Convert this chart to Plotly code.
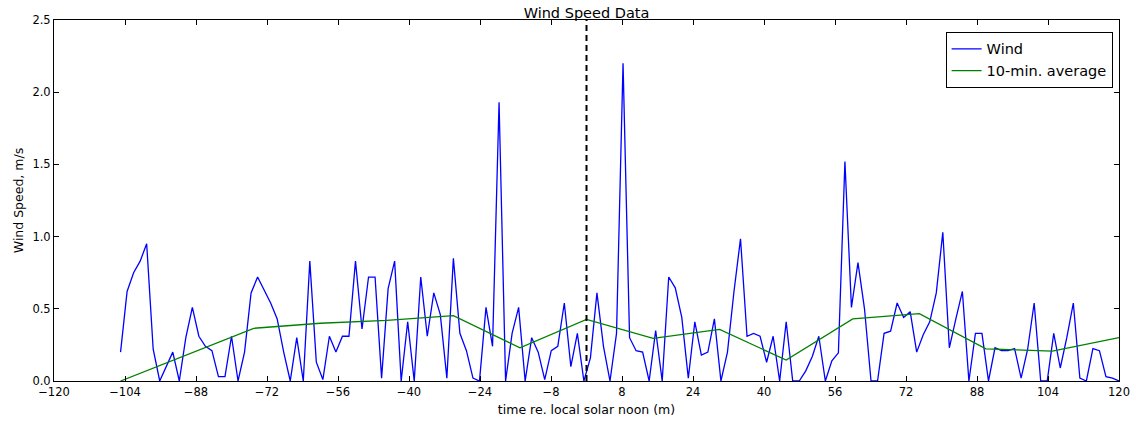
import numpy as np
import plotly.graph_objects as go

# Wind speed samples (m/s), evenly spaced from -105 to 120 minutes re. solar noon
wind_speed = [
    0.20, 0.62, 0.75, 0.83, 0.95, 0.22, 0.00, 0.10, 0.20, 0.00,
    0.30, 0.51, 0.31, 0.24, 0.21, 0.03, 0.03, 0.31, 0.00, 0.20,
    0.61, 0.72, 0.63, 0.54, 0.43, 0.20, 0.00, 0.30, 0.00, 0.83,
    0.13, 0.01, 0.31, 0.20, 0.31, 0.31, 0.83, 0.36, 0.72, 0.72,
    0.02, 0.64, 0.83, 0.00, 0.41, 0.00, 0.72, 0.31, 0.61, 0.46,
    0.02, 0.85, 0.33, 0.21, 0.02, 0.00, 0.51, 0.24, 1.93, 0.00,
    0.33, 0.51, 0.00, 0.30, 0.20, 0.01, 0.21, 0.24, 0.54, 0.10,
    0.33, 0.00, 0.16, 0.61, 0.24, 0.00, 0.33, 2.20, 0.30, 0.21,
    0.20, 0.00, 0.35, 0.00, 0.72, 0.645, 0.44, 0.02, 0.41, 0.18,
    0.20, 0.43, 0.00, 0.20, 0.62, 0.985, 0.31, 0.33, 0.31, 0.13,
    0.31, 0.00, 0.41, 0.00, 0.00, 0.07, 0.17, 0.31, 0.00, 0.14,
    0.195, 1.52, 0.51, 0.82, 0.50, 0.00, 0.00, 0.33, 0.345, 0.54,
    0.44, 0.48, 0.20, 0.32, 0.41, 0.61, 1.03, 0.23, 0.43, 0.62,
    0.00, 0.33, 0.33, 0.00, 0.23, 0.21, 0.21, 0.225, 0.02, 0.22,
    0.54, 0.00, 0.00, 0.33, 0.09, 0.30, 0.54, 0.02, 0.00, 0.225,
    0.21, 0.03, 0.02, 0.00,
]
wind_start, wind_end = -105, 120
wind_time = np.linspace(wind_start, wind_end, len(wind_speed))

# 10-minute average curve
avg_time = [-105, -90, -75, -60, -45, -30, -15, 0, 15, 30, 45, 60, 75, 90, 105, 120]
avg_speed = [0.0, 0.18, 0.365, 0.40, 0.42, 0.453, 0.23, 0.426, 0.295, 0.357,
             0.145, 0.43, 0.467, 0.223, 0.207, 0.30]

solar_noon = 0
x_ticks = list(range(-120, 121, 16))
y_ticks = [0.0, 0.5, 1.0, 1.5, 2.0, 2.5]

font = "DejaVu Sans, Verdana, sans-serif"

fig = go.Figure()
fig.add_trace(go.Scatter(x=wind_time, y=wind_speed, mode="lines", name="Wind",
                         line=dict(color="#0000ff", width=1.3)))
fig.add_trace(go.Scatter(x=avg_time, y=avg_speed, mode="lines", name="10-min. average",
                         line=dict(color="#008000", width=1.3)))
fig.add_trace(go.Scatter(x=[solar_noon, solar_noon], y=[0, 2.5], mode="lines",
                         showlegend=False, hoverinfo="skip",
                         line=dict(color="black", width=2, dash="6px,4px")))

axis_common = dict(showline=True, linecolor="black", linewidth=1, mirror="ticks",
                   ticks="inside", ticklen=5, tickcolor="black", showgrid=False,
                   zeroline=False, automargin=False,
                   tickfont=dict(family=font, size=11.5, color="black"))

fig.update_xaxes(range=[-120, 120], tickmode="array", tickvals=x_ticks,
                 ticktext=[str(v).replace("-", "\u2212") for v in x_ticks],
                 title=dict(text="time re. local solar noon (m)",
                            font=dict(family=font, size=12.5, color="black"), standoff=7),
                 **axis_common)
fig.update_yaxes(range=[0, 2.5], tickmode="array", tickvals=y_ticks,
                 ticktext=[f"{v:.1f}" for v in y_ticks],
                 title=dict(text="Wind Speed, m/s",
                            font=dict(family=font, size=12.5, color="black"), standoff=6),
                 **axis_common)

fig.update_layout(
    width=1136, height=424,
    margin=dict(l=54, r=17, t=20, b=43, autoexpand=False),
    paper_bgcolor="white", plot_bgcolor="white",
    title=dict(text="Wind Speed Data", x=0.5, xanchor="center", y=0.97, yanchor="middle",
               xref="paper", font=dict(family=font, size=14.5, color="black")),
    legend=dict(x=0.994, y=0.967, xanchor="right", yanchor="top",
                bgcolor="white", bordercolor="black", borderwidth=1,
                font=dict(family=font, size=14.5, color="black")),
    showlegend=True,
)

fig.write_html("out.html")
